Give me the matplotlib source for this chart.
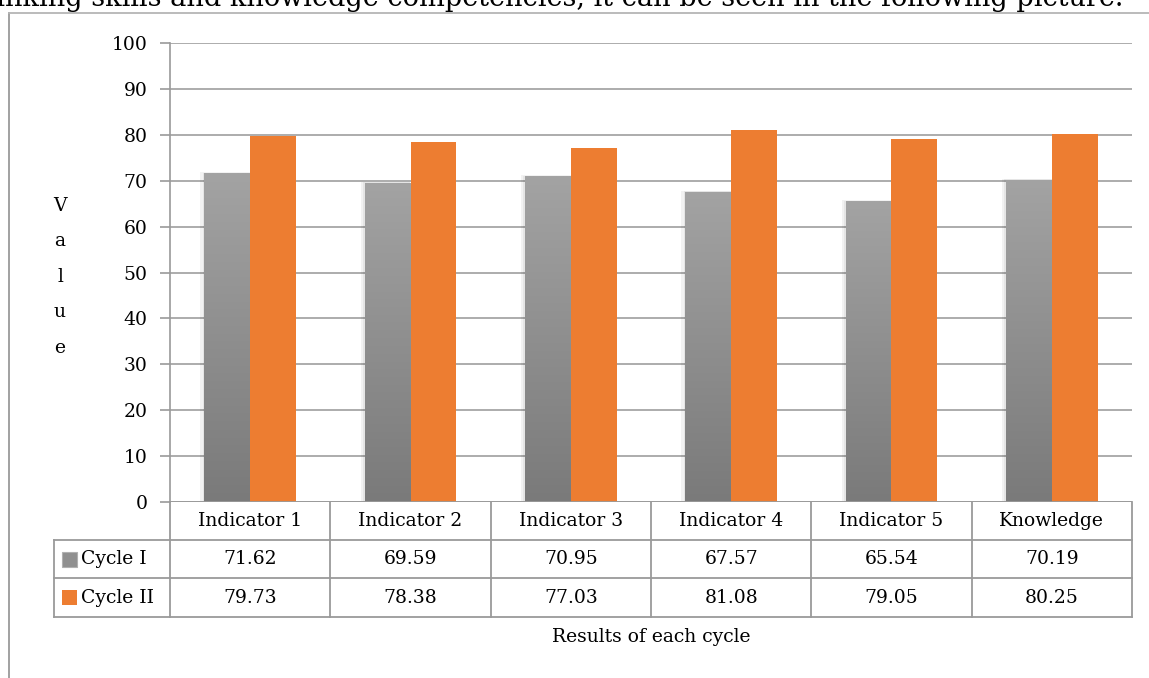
import matplotlib
matplotlib.use("Agg")
import matplotlib.pyplot as plt
import numpy as np
from matplotlib.patches import Rectangle
from matplotlib.lines import Line2D
from matplotlib.colors import LinearSegmentedColormap

categories = ["Indicator 1", "Indicator 2", "Indicator 3", "Indicator 4", "Indicator 5", "Knowledge"]
cycle1 = [71.62, 69.59, 70.95, 67.57, 65.54, 70.19]
cycle2 = [79.73, 78.38, 77.03, 81.08, 79.05, 80.25]
series_names = ["Cycle I", "Cycle II"]
yticks = [0, 10, 20, 30, 40, 50, 60, 70, 80, 90, 100]

W, H = 1149, 678
plt.rcParams['font.family'] = ['DejaVu Serif']
FS = 13.5
ORANGE = "#ED7D31"
GRID = "#a6a6a6"
LINE = "#9a9a9a"

fig = plt.figure(figsize=(W / 100, H / 100), dpi=100)

def fx(px):
    return px / W

def fy(py):
    return 1 - py / H

ax_l, ax_r, ax_t, ax_b = 170, 1132, 43, 502
ax = fig.add_axes([fx(ax_l), fy(ax_b), fx(ax_r) - fx(ax_l), fy(ax_t) - fy(ax_b)])
n = len(categories)
x = np.arange(n)
bw = 0.285

# gradient gray bars
grad = np.linspace(0, 1, 256).reshape(-1, 1)
cmap = LinearSegmentedColormap.from_list("g", ["#7a7a7a", "#a3a3a3"])
for xi, v in zip(x, cycle1):
    x0 = xi - bw
    ax.add_patch(Rectangle((x0 - 0.025, 0), bw + 0.025, v + 0.2, facecolor="#000000", alpha=0.05,
                           edgecolor="none", zorder=2))
    ax.add_patch(Rectangle((x0 - 0.012, 0), bw + 0.012, v + 0.1, facecolor="#000000", alpha=0.05,
                           edgecolor="none", zorder=2))
    rect = Rectangle((x0, 0), bw, v, facecolor="none", edgecolor="none", zorder=3)
    ax.add_patch(rect)
    im = ax.imshow(grad, extent=(x0, x0 + bw, 0, v), origin="lower", cmap=cmap,
                   aspect="auto", zorder=3)
    im.set_clip_path(rect)
ax.bar(x + bw / 2, cycle2, width=bw, color=ORANGE, zorder=3, label=series_names[1])
ax.set_xlim(-0.5, n - 0.5)
ax.set_ylim(0, 100)

ax.set_yticks(yticks)
ax.set_yticklabels([str(t) for t in yticks], fontsize=FS)
ax.tick_params(axis="y", length=7, color=LINE, width=1.2, pad=9)
ax.set_xticks([])
ax.yaxis.grid(True, color=GRID, linewidth=1.3, zorder=0)
ax.set_axisbelow(True)
for s in ["top", "right", "bottom"]:
    ax.spines[s].set_visible(False)
ax.spines["left"].set_color(LINE)
ax.spines["left"].set_linewidth(1.2)
ax.axhline(0, color=LINE, linewidth=1.3, zorder=4)

# Y label, stacked letters
for i, ch in enumerate("Value"):
    fig.text(fx(60), fy(206 + i * 35.5), ch, fontsize=FS, ha="center", va="center")

# Table below axes
col_x = [ax_l + (ax_r - ax_l) * i / n for i in range(n + 1)]
tbl_left = 54

def hline(y, x0, x1):
    fig.add_artist(Line2D([fx(x0), fx(x1)], [fy(y), fy(y)], color=LINE, linewidth=1.3))

def vline(xp, y0, y1):
    fig.add_artist(Line2D([fx(xp), fx(xp)], [fy(y0), fy(y1)], color=LINE, linewidth=1.3))

hline(540, tbl_left, ax_r)
hline(578, tbl_left, ax_r)
hline(617, tbl_left, ax_r)
for xp in col_x:
    vline(xp, 502, 617)
vline(tbl_left, 540, 617)

for i, c in enumerate(categories):
    cx = (col_x[i] + col_x[i + 1]) / 2
    fig.text(fx(cx), fy(521), c, fontsize=FS, ha="center", va="center")
    fig.text(fx(cx), fy(559), f"{cycle1[i]:.2f}", fontsize=FS, ha="center", va="center")
    fig.text(fx(cx), fy(598), f"{cycle2[i]:.2f}", fontsize=FS, ha="center", va="center")

# legend keys in table
fig.add_artist(Rectangle((fx(62), fy(567)), fx(15), fy(552) - fy(567), facecolor="#8f8f8f",
                         edgecolor="#b0b0b0", linewidth=0.8))
fig.add_artist(Rectangle((fx(62), fy(605)), fx(15), fy(590) - fy(605), facecolor=ORANGE,
                         edgecolor="none"))
fig.text(fx(81), fy(559), series_names[0], fontsize=FS, ha="left", va="center")
fig.text(fx(81), fy(598), series_names[1], fontsize=FS, ha="left", va="center")

fig.text(fx(651), fy(637), "Results of each cycle", fontsize=FS, ha="center", va="center")

# outer frame
fig.add_artist(Line2D([fx(9), fx(9)], [fy(13), 0], color=LINE, linewidth=1.3))
fig.add_artist(Line2D([fx(9), 1], [fy(13), fy(13)], color="#b5b5b5", linewidth=1.3))

# clipped preceding text line
fig.text(fx(1123), fy(6), "thinking skills and knowledge competencies, it can be seen in the following picture.",
         fontsize=19.5, ha="right", va="baseline")

fig.savefig("out.png", dpi=100)
